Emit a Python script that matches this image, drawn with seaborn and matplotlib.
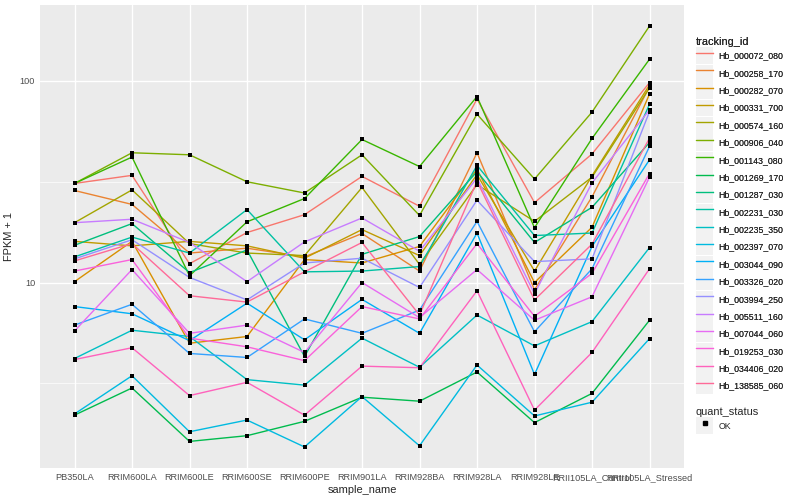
import numpy as np
import pandas as pd
import matplotlib
matplotlib.use("Agg")
import matplotlib.pyplot as plt
from matplotlib.lines import Line2D
from matplotlib.patches import Patch
from matplotlib.legend_handler import HandlerTuple
from matplotlib.ticker import FixedLocator, NullFormatter
import seaborn as sns

# x categories, in plotting order
samples = ["PB350LA", "RRIM600LA", "RRIM600LE", "RRIM600SE", "RRIM600PE",
           "RRIM901LA", "RRIM928BA", "RRIM928LA", "RRIM928LE",
           "RRII105LA_Control", "RRII105LA_Stressed"]

tracking_ids = ["Hb_000072_080", "Hb_000258_170", "Hb_000282_070", "Hb_000331_700",
                "Hb_000574_160", "Hb_000906_040", "Hb_001143_080", "Hb_001269_170",
                "Hb_001287_030", "Hb_002231_030", "Hb_002235_350", "Hb_002397_070",
                "Hb_003044_090", "Hb_003326_020", "Hb_003994_250", "Hb_005511_160",
                "Hb_007044_060", "Hb_019253_030", "Hb_034406_020", "Hb_138585_060"]

# FPKM + 1 per gene, one value per sample
hb_000072_080 = [31, 34, 12.4, 17.7, 21.7, 33.6, 23.9, 81.3, 24.9, 43.4, 98]
hb_000258_170 = [28.6, 24.4, 14.0, 14.8, 13.4, 17.5, 11.4, 44, 9.2, 26.6, 93.5]
hb_000282_070 = [10.1, 16.0, 5.0, 5.4, 13.0, 12.5, 15.1, 36.5, 10, 18.8, 86]
hb_000331_700 = [16.0, 15.2, 16.0, 15.2, 13.2, 18.3, 13.6, 34.3, 11.4, 33.8, 95.5]
hb_000574_160 = [19.8, 28.8, 15.6, 14.0, 13.6, 29.6, 12.3, 30.6, 20.1, 33.3, 92.3]
hb_000906_040 = [31, 44, 43, 31.6, 27.8, 43, 21.5, 68.4, 32.6, 70, 187]
hb_001143_080 = [31, 41.9, 10.8, 20, 26.1, 51.2, 37.6, 83.6, 18.7, 51.8, 128]
hb_001269_170 = [2.2, 3.0, 1.63, 1.74, 2.05, 2.7, 2.58, 3.6, 2.02, 2.82, 6.5]
hb_001287_030 = [15.3, 19.6, 11.2, 14.5, 4.3, 13.8, 16.9, 35.5, 15.8, 23.6, 49.5]
hb_002231_030 = [13.4, 16.8, 14.0, 23, 11.3, 11.4, 12.0, 38.1, 17.1, 17.6, 76.5]
hb_002235_350 = [4.2, 5.8, 5.4, 3.3, 3.1, 5.3, 3.8, 6.9, 4.85, 6.4, 14.9]
hb_002397_070 = [2.23, 3.45, 1.82, 2.08, 1.53, 2.72, 1.55, 3.9, 2.18, 2.55, 5.27]
hb_003044_090 = [7.6, 7.0, 5.15, 7.9, 5.2, 8.25, 5.6, 17.6, 3.5, 15.1, 40.6]
hb_003326_020 = [6.15, 7.8, 4.45, 4.25, 6.6, 5.6, 7.3, 20.1, 5.7, 11.7, 47.3]
hb_003994_250 = [13.1, 16.3, 10.6, 8.2, 12.5, 13.2, 9.45, 25.6, 12.7, 13.1, 70.4]
hb_005511_160 = [19.8, 20.6, 15.8, 10.1, 15.9, 20.9, 14.3, 33, 8.8, 31.2, 71.8]
hb_007044_060 = [5.75, 11.6, 5.6, 6.15, 4.5, 10.0, 6.7, 11.6, 6.5, 8.5, 33.3]
hb_019253_030 = [11.4, 13.0, 5.3, 4.8, 4.1, 7.6, 6.6, 15.6, 6.8, 11.1, 34.7]
hb_034406_020 = [4.15, 4.75, 2.75, 3.2, 2.2, 3.85, 3.78, 9.1, 2.33, 4.5, 11.7]
hb_138585_060 = [12.8, 15.6, 8.6, 8.0, 11.3, 15.8, 6.9, 31.8, 8.2, 15.5, 52]

series_values = [hb_000072_080, hb_000258_170, hb_000282_070, hb_000331_700,
                 hb_000574_160, hb_000906_040, hb_001143_080, hb_001269_170,
                 hb_001287_030, hb_002231_030, hb_002235_350, hb_002397_070,
                 hb_003044_090, hb_003326_020, hb_003994_250, hb_005511_160,
                 hb_007044_060, hb_019253_030, hb_034406_020, hb_138585_060]


def ggplot_hue(n, c=100.0, l=65.0):
    """ggplot2 default discrete palette (hue_pal): polar LUV -> sRGB."""
    hues = np.linspace(15, 375, n + 1)[:-1]
    xn, yn, zn = 95.047, 100.0, 108.883
    un = 4 * xn / (xn + 15 * yn + 3 * zn)
    vn = 9 * yn / (xn + 15 * yn + 3 * zn)
    m = np.array([[3.240479, -1.537150, -0.498535],
                  [-0.969256, 1.875992, 0.041556],
                  [0.055648, -0.204043, 1.057311]])
    out = []
    for h in hues:
        u = c * np.cos(np.radians(h))
        v = c * np.sin(np.radians(h))
        Y = yn * ((l + 16) / 116) ** 3
        up = u / (13 * l) + un
        vp = v / (13 * l) + vn
        X = Y * 9 * up / (4 * vp)
        Z = Y * (12 - 3 * up - 20 * vp) / (4 * vp)
        rgb = m @ (np.array([X, Y, Z]) / 100)
        rgb = np.where(rgb <= 0.0031308, 12.92 * rgb, 1.055 * np.power(np.clip(rgb, 0, None), 1 / 2.4) - 0.055)
        out.append(tuple(np.clip(rgb, 0, 1)))
    return out


records = []
for tid, vals in zip(tracking_ids, series_values):
    for s, v in zip(samples, vals):
        records.append({"sample_name": s, "tracking_id": tid, "fpkm1": v, "quant_status": "OK"})
df = pd.DataFrame(records)

colors = ggplot_hue(len(tracking_ids))

sns.set_style("darkgrid", {"axes.facecolor": "#EBEBEB", "grid.color": "white"})
plt.rcParams["font.family"] = ["Liberation Sans", "DejaVu Sans"]

fig = plt.figure(figsize=(8, 5), dpi=100)
ax = fig.add_axes([40 / 800, 1 - 468 / 500, 644 / 800, 463 / 500])

sns.lineplot(data=df, x="sample_name", y="fpkm1", hue="tracking_id",
             hue_order=tracking_ids, palette=colors, sort=False,
             estimator=None, errorbar=None, linewidth=1.0, legend=False, ax=ax)
sns.scatterplot(data=df, x="sample_name", y="fpkm1", color="black", marker="s",
                s=10, linewidth=0, legend=False, ax=ax, zorder=5)

ax.set_yscale("log")
lo, hi = np.log10(df["fpkm1"].min()), np.log10(df["fpkm1"].max())
pad = 0.05 * (hi - lo)
ax.set_ylim(10 ** (lo - pad), 10 ** (hi + pad))
ax.set_xlim(-0.6, len(samples) - 0.4)

ax.yaxis.set_major_locator(FixedLocator([10, 100]))
ax.set_yticklabels(["10", "100"])
ax.yaxis.set_minor_locator(FixedLocator([10 ** 0.5, 10 ** 1.5, 10 ** 2.5]))
ax.yaxis.set_minor_formatter(NullFormatter())
ax.set_xticks(range(len(samples)))
ax.set_xticklabels(samples)

ax.grid(which="major", color="white", linewidth=1.0)
ax.grid(which="minor", axis="y", color="white", linewidth=0.5)
ax.set_axisbelow(True)
for sp in ax.spines.values():
    sp.set_visible(False)
ax.tick_params(axis="both", which="major", length=2.0, width=0.7, color="#333333",
               labelsize=6.6, labelcolor="#4D4D4D", pad=1.5)
ax.tick_params(axis="y", which="minor", length=0)

ax.set_xlabel("sample_name", fontsize=7.9, labelpad=2)
ax.set_ylabel("FPKM + 1", fontsize=7.9, labelpad=4)

# legends
key_bg = "#F2F2F2"
line_handles = [(Patch(facecolor=key_bg, edgecolor="none"), Line2D([], [], color=c, lw=1.0))
                for c in colors]
leg_kw = dict(handler_map={tuple: HandlerTuple(ndivide=1, pad=0)}, loc="upper left",
              frameon=False, title_fontsize=7.9, fontsize=6.3, alignment="left",
              handlelength=1.95, handleheight=2.6, handletextpad=0.6,
              labelspacing=0.05, borderpad=0, borderaxespad=0)
leg1 = fig.legend(line_handles, tracking_ids, bbox_to_anchor=(696 / 800, 1 - 37 / 500),
                  title="tracking_id", **leg_kw)
fig.add_artist(leg1)

pt_handle = [(Patch(facecolor=key_bg, edgecolor="none"),
              Line2D([], [], color="black", marker="s", markersize=2.8, lw=0))]
fig.legend(pt_handle, ["OK"], bbox_to_anchor=(696 / 800, 1 - 407 / 500),
           title="quant_status", **leg_kw)

fig.savefig("out.png", dpi=100)
